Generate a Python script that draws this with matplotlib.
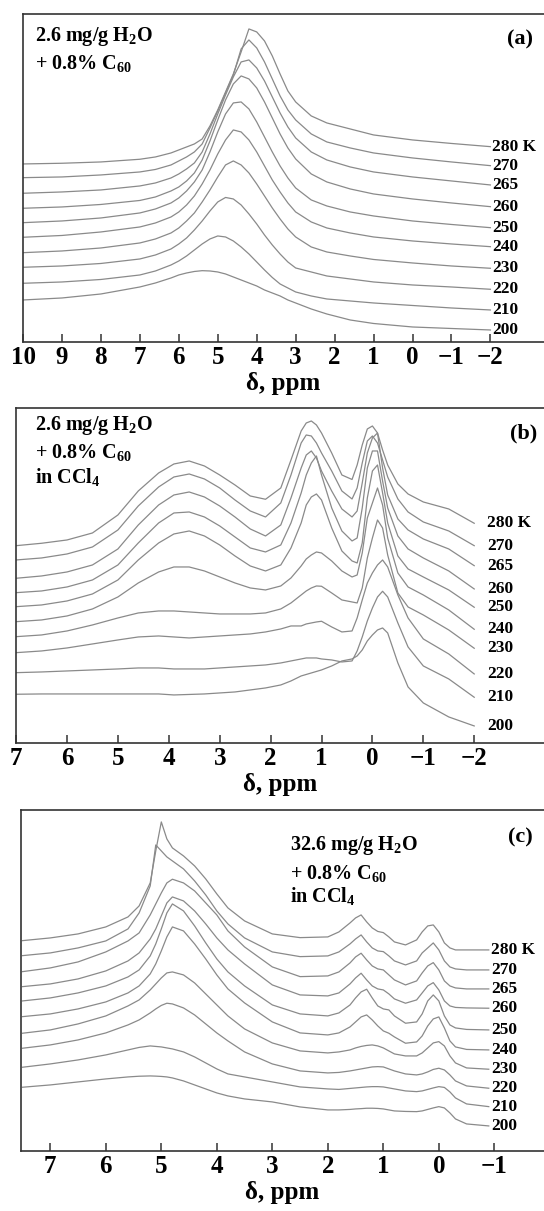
import matplotlib
matplotlib.use('Agg')
import matplotlib.pyplot as plt

plt.rcParams['font.family'] = ['Liberation Serif', 'DejaVu Serif']
plt.rcParams['font.weight'] = 'bold'
plt.rcParams['mathtext.fontset'] = 'custom'
plt.rcParams['mathtext.rm'] = 'Liberation Serif:bold'
plt.rcParams['mathtext.bf'] = 'Liberation Serif:bold'
plt.rcParams['mathtext.it'] = 'Liberation Serif:bold:italic'
plt.rcParams['mathtext.default'] = 'bf'

temps = ['280 K', '270', '265', '260', '250', '240', '230', '220', '210', '200']

# --- (a) 2.6 mg/g H2O + 0.8% C60 ---
ppm_a = [10, 9, 8, 7, 6.6, 6.2, 6.0, 5.8, 5.6, 5.4, 5.2, 5.0, 4.8, 4.6, 4.4,
         4.2, 4.0, 3.8, 3.6, 3.4, 3.2, 3.0, 2.6, 2.2, 1.6, 1.0, 0.0, -1.0, -2.0]
spec_a = [
    [178, 178.7, 180, 182.7, 185, 189, 192, 195, 198, 203, 216, 232, 250, 268, 290,
     313, 310, 301, 286, 268, 251, 240, 226, 219, 213, 207, 202, 198.5, 195.3],
    [164.3, 165, 167, 170, 172.5, 177, 181, 185, 190, 198, 214, 231, 249, 267, 293,
     302, 294, 280, 263, 246, 232, 222, 208, 200, 194, 189, 184, 180, 176.3],
    [148.7, 150, 152, 156, 159, 164, 168, 173, 179, 190, 208, 228, 247, 265, 280,
     282, 274, 261, 245, 229, 215, 204, 190, 182, 175, 170, 165, 161, 157],
    [133.7, 135, 137.5, 141.5, 145, 151, 155, 161, 169, 182, 201, 222, 242, 258, 266,
     263, 254, 240, 224, 208, 194, 183, 168, 160, 153, 148, 143, 139, 135.3],
    [119.3, 121, 124, 129, 133, 139, 144, 151, 160, 172, 190, 210, 228, 239, 240,
     233, 220, 205, 190, 176, 164, 154, 142, 136, 130, 126, 121, 117.5, 114.3],
    [104.7, 106.5, 110, 115, 119, 125, 130, 137, 146, 158, 172, 188, 202, 212, 210,
     202, 190, 176, 162, 150, 139, 130, 120, 114, 109, 105, 101, 98, 95.3],
    [89.3, 91, 94, 99, 103, 109, 114, 121, 129, 140, 152, 165, 177, 181, 177,
     169, 158, 146, 134, 123, 113, 105, 95, 90, 86, 82.5, 79, 76, 73.7],
    [74.7, 76, 78.5, 83, 87, 93, 98, 104, 112, 121, 131, 140, 144.5, 143, 137,
     128, 118, 107, 97, 88, 80, 74, 70, 66, 63, 60, 57, 55, 52.7],
    [58.7, 60, 62.5, 67, 71, 77, 81, 86, 92, 98, 103, 106, 105, 101, 95,
     88, 80, 72, 64.5, 58, 54, 50, 46, 43, 41, 39, 36.5, 34, 32],
    [42, 44, 48, 55, 59, 64, 67, 69, 70.5, 71.3, 71, 70, 68, 65, 62,
     59, 56, 52, 49, 46, 42, 39, 33, 28, 22, 18.5, 15, 13.5, 12],
]

# --- (b) 2.6 mg/g H2O + 0.8% C60 in CCl4 ---
ppm_b = [7, 6.5, 6, 5.5, 5, 4.6, 4.2, 3.9, 3.6, 3.3, 3.0, 2.7, 2.4, 2.1, 1.8, 1.6, 1.4, 1.3,
         1.2, 1.1, 1.0, 0.8, 0.6, 0.4, 0.3, 0.2, 0.1, 0.0, -0.1, -0.2, -0.3, -0.5, -0.7, -1.0, -1.5, -2.0]
spec_b = [
    [197.3, 199.7, 203, 210, 228, 252, 270, 279, 282, 277, 268, 258, 247, 243.7, 255, 283, 312, 320,
     322, 318, 310, 290, 268, 263.5, 278, 298, 314, 317, 310, 293, 278, 259, 249, 241, 234, 219.7],
    [183, 185, 189, 196, 213, 237, 256, 266, 269, 264, 255, 243, 232, 226, 240, 268, 300, 308,
     307, 300, 290, 272, 252, 244, 255, 280, 302, 307, 300, 283, 266, 244, 231, 221, 212, 197.3],
    [164.7, 167, 171, 178, 194, 218, 238, 248, 251, 246, 237, 226, 214, 207, 218, 245, 275, 288,
     292, 285, 272, 252, 234, 226, 232, 260, 290, 305, 310, 275, 248, 224, 213, 204, 194, 177.3],
    [150.3, 152, 156, 163, 178, 200, 220, 230, 231, 226, 217, 206, 195, 191, 198, 220, 250, 268,
     280, 287, 268, 235, 212, 202, 205, 235, 275, 292, 292, 262, 235, 207, 194, 185, 172, 154],
    [136.3, 138, 142, 149, 163, 183, 200, 209, 212, 207, 198, 187, 177, 172, 178, 195, 220, 238,
     246, 249, 243, 215, 192, 182, 180, 200, 245, 272, 278, 250, 220, 187, 174, 166, 153, 135.7],
    [121.3, 123, 127, 134, 146, 160, 171, 176, 176, 172, 166, 160, 155, 153, 157, 165, 177, 184,
     188, 191, 190, 182, 172, 166, 168, 190, 225, 240, 255, 238, 205, 170, 156, 148, 133, 113.7],
    [106.3, 108, 112, 118, 125, 130, 132, 132, 131, 130, 129, 129, 129, 130, 134, 140, 148, 152,
     155, 157, 156.7, 150, 143, 141, 140, 155, 185, 205, 223, 215, 188, 150, 136, 128, 113, 94.7],
    [90.3, 92, 95, 99, 103, 106, 107, 106, 105, 106, 107, 108, 109, 111, 114, 117, 117, 119,
     120, 121, 121.7, 116, 111, 112, 125, 143, 160, 170, 178, 183, 176, 148, 125, 104, 89, 69],
    [70.3, 71, 72, 73, 74, 75, 75, 74, 74, 74, 75, 76, 77, 78, 80, 82, 84, 85,
     85, 85, 84, 83, 81, 82, 92, 106, 122, 135, 146, 151.7, 146, 120, 96, 77, 64, 45.7],
    [48.7, 49, 49, 49, 49, 49, 49, 48, 48.5, 49, 50, 51, 53, 55, 58, 62, 67, 68.5,
     70, 71.5, 73, 77, 82, 84, 87, 93, 102, 108, 113, 115, 110, 80, 56, 40, 26, 17],
]

# --- (c) 32.6 mg/g H2O + 0.8% C60 in CCl4 ---
ppm_c = [7.5, 7, 6.5, 6, 5.6, 5.4, 5.2, 5.1, 5.0, 4.9, 4.8, 4.6, 4.4, 4.2, 4.0, 3.8, 3.5, 3.0, 2.5, 2.0,
         1.8, 1.6, 1.5, 1.4, 1.3, 1.2, 1.1, 1.0, 0.9, 0.8, 0.6, 0.4, 0.3, 0.2, 0.1, 0.0, -0.1, -0.2, -0.3, -0.5, -0.9]
spec_c = [
    [210.3, 213, 217, 224, 234, 245, 268, 300, 329, 312, 303, 295, 285, 272, 257, 243, 230, 217, 213.3, 214,
     219, 228, 233, 236, 229, 223, 219.5, 218.3, 214, 209, 206, 211, 219, 225, 226, 219, 208, 203, 201, 201, 201],
    [195.3, 198, 203, 210, 222, 238, 265, 306, 300, 294, 290, 282, 270, 256, 240, 227, 213, 199, 194.3, 195,
     199, 207, 212, 216, 209, 203, 200, 199.3, 195, 190, 186, 190, 198, 203, 208, 201, 190, 184, 182, 181, 181],
    [179.3, 183, 189, 199, 210, 218, 236, 247, 258, 268, 271.7, 268, 260, 248, 236, 220, 204, 184, 174.3, 175,
     179, 188, 194, 197.7, 191, 185, 182, 181, 176, 171, 166, 170, 178, 185, 188.3, 181, 170, 165, 163, 162, 162],
    [164.3, 167, 172, 180, 190, 198, 212, 222, 235, 248, 254, 250, 240, 227, 213, 201, 187, 166, 156, 155,
     158, 167, 173, 177.7, 171, 165, 162, 161, 157, 152, 147.7, 151, 158, 165, 168.3, 161, 150, 145, 143.5, 143, 142.7],
    [150, 153, 158, 165, 174, 181, 195, 207, 222, 238, 247, 240, 225, 208, 192, 179, 165, 146, 137, 135,
     138, 146, 153, 159, 161.7, 153, 145, 142, 141, 135, 127.7, 129, 137, 150, 156, 150, 135, 126, 123, 121.5, 121],
    [134.3, 137, 142, 149, 158, 165, 177, 187, 200, 214, 224, 220, 207, 192, 176, 162, 148, 129, 118, 116,
     118, 124, 129, 134, 136, 131, 125, 120, 117.7, 114, 107.7, 109, 115, 125, 132, 134, 123, 110, 104, 101.5, 101],
    [117.7, 121, 127, 135, 145, 151, 161, 167, 173, 178, 179, 176, 168, 157, 146, 135, 122, 108, 100, 98,
     99, 101, 103, 104.5, 105.5, 106, 105, 103, 100, 97, 95, 95, 98, 103, 108, 109.3, 105, 95, 88, 83, 81.7],
    [102.7, 106, 111, 118, 126, 131, 138, 142, 145.5, 147.7, 147, 143, 136, 127, 118, 110, 99, 87, 80, 78,
     78.5, 80, 81, 82, 83, 84, 84.3, 84, 82, 80, 77, 76, 77, 79, 81.5, 82.7, 81, 76, 70, 65, 62.7],
    [83.7, 87, 91, 96, 101, 103.5, 105, 104.5, 104, 103, 102, 99, 94, 88, 82, 77, 74, 69, 64, 62,
     61.5, 62.5, 63, 63.5, 64, 64.3, 64.3, 64, 63, 62, 60, 59.3, 60, 61.5, 63, 64.3, 63.5, 59, 53, 47, 44.3],
    [63.7, 66, 69, 72, 74, 74.7, 75, 74.8, 74.5, 74, 73, 70, 66, 62, 58, 55, 52, 49, 44, 41,
     41, 41.5, 42, 42.3, 42.7, 42.7, 42.5, 42, 41, 40, 39.5, 39.3, 40, 41.5, 43, 44.3, 43, 38, 32, 27, 25],
]

line_color = '#8a8a8a'
spine_color = '#333333'

fig = plt.figure(figsize=(5.44, 12.11), dpi=100)


def draw_panel(rect, ppm, spec, xlim, ymax, ticks, label_dx):
    ax = fig.add_axes(rect)
    for vals, t in zip(spec, temps):
        ax.plot(ppm, vals, color=line_color, lw=0.9)
        ax.annotate(t, (ppm[-1], vals[-1]), xytext=(label_dx, 0),
                    textcoords='offset pixels', ha='left', va='center',
                    fontsize=12.5, fontweight='bold')
    ax.set_xlim(xlim)
    ax.set_ylim(0, ymax)
    ax.set_xticks(ticks)
    ax.set_yticks([])
    ax.tick_params(axis='x', direction='in', length=6, width=1.1, pad=3,
                   labelsize=18, color=spine_color)
    for lab in ax.get_xticklabels():
        lab.set_fontweight('bold')
    ax.spines['right'].set_visible(False)
    for s in ['left', 'top', 'bottom']:
        ax.spines[s].set_color(spine_color)
        ax.spines[s].set_linewidth(1.2)
    ax.set_xlabel('δ, ppm', fontsize=18, fontweight='bold', labelpad=2)
    return ax


ax1 = draw_panel([0.0423, 0.7176, 0.9577, 0.2709], ppm_a, spec_a,
                 (10, -3.376), 328, list(range(10, -3, -1)), 2)
ax1.text(0.0225, 0.93, '2.6 mg/g H$_2$O', transform=ax1.transAxes,
         fontsize=14.5, va='center')
ax1.text(0.0225, 0.85, '+ 0.8% C$_{60}$', transform=ax1.transAxes,
         fontsize=14.5, va='center')
ax1.text(0.954, 0.921, '(a)', transform=ax1.transAxes, fontsize=16,
         ha='center', va='center')

ax2 = draw_panel([0.0285, 0.3865, 0.9715, 0.2766], ppm_b, spec_b,
                 (7.012, -3.371), 335, list(range(7, -3, -1)), 13)
ax2.text(0.0363, 0.949, '2.6 mg/g H$_2$O', transform=ax2.transAxes,
         fontsize=14.5, va='center')
ax2.text(0.0363, 0.866, '+ 0.8% C$_{60}$', transform=ax2.transAxes,
         fontsize=14.5, va='center')
ax2.text(0.0363, 0.794, 'in CCl$_4$', transform=ax2.transAxes,
         fontsize=14.5, va='center')
ax2.text(0.962, 0.925, '(b)', transform=ax2.transAxes, fontsize=16,
         ha='center', va='center')

ax3 = draw_panel([0.0382, 0.0496, 0.9618, 0.2816], ppm_c, spec_c,
                 (7.532, -1.895), 341, list(range(7, -2, -1)), 2)
ax3.text(0.5145, 0.897, '32.6 mg/g H$_2$O', transform=ax3.transAxes,
         fontsize=14.5, va='center')
ax3.text(0.5145, 0.814, '+ 0.8% C$_{60}$', transform=ax3.transAxes,
         fontsize=14.5, va='center')
ax3.text(0.5145, 0.748, 'in CCl$_4$', transform=ax3.transAxes,
         fontsize=14.5, va='center')
ax3.text(0.954, 0.918, '(c)', transform=ax3.transAxes, fontsize=16,
         ha='center', va='center')

fig.savefig('out.png', dpi=100)
